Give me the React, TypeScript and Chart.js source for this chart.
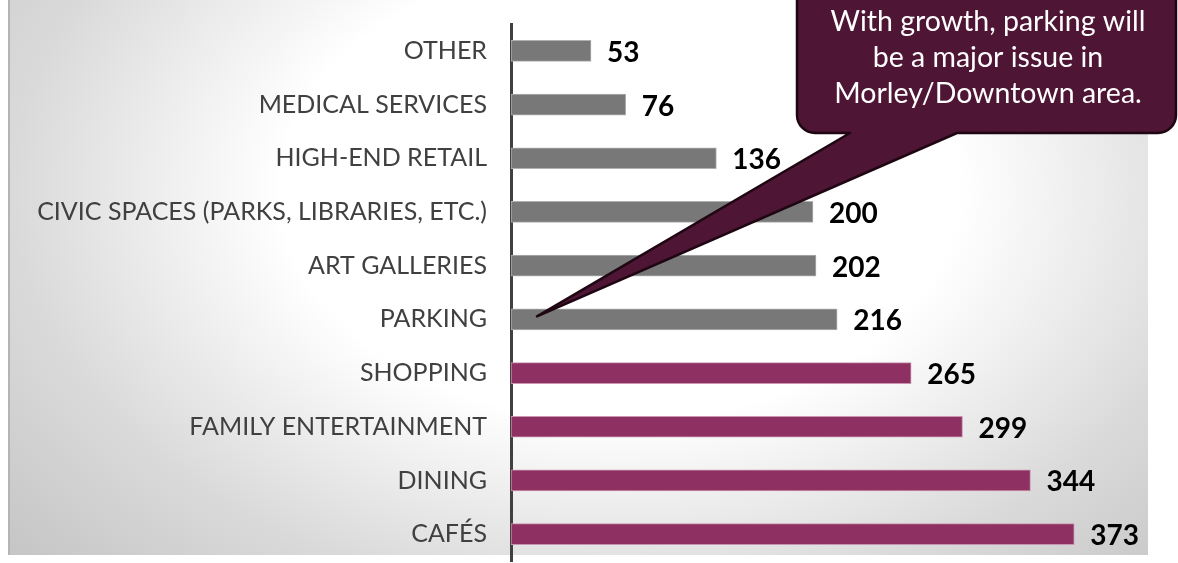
import React, { useEffect, useRef } from "react";
import { Chart, registerables } from "chart.js";

Chart.register(...registerables);

const categories = [
  "OTHER",
  "MEDICAL SERVICES",
  "HIGH-END RETAIL",
  "CIVIC SPACES (PARKS, LIBRARIES, ETC.)",
  "ART GALLERIES",
  "PARKING",
  "SHOPPING",
  "FAMILY ENTERTAINMENT",
  "DINING",
  "CAFÉS",
];
const values = [53, 76, 136, 200, 202, 216, 265, 299, 344, 373];
const highlighted = [false, false, false, false, false, false, true, true, true, true];
const calloutLines = ["With growth, parking will", "be a major issue in", "Morley/Downtown area."];
const calloutTarget = "PARKING";

const GRAY = "#787878";
const GRAY_BORDER = "#b0b0b0";
const MAG = "#8e3162";
const MAG_BORDER = "#c994b0";
const FONT = "Lato, 'DejaVu Sans', sans-serif";

const backgroundPlugin = {
  id: "bgPanel",
  beforeDraw(chart: any) {
    const ctx = chart.ctx as CanvasRenderingContext2D;
    const W = chart.width;
    const H = chart.height;
    ctx.save();
    ctx.fillStyle = "#ffffff";
    ctx.fillRect(0, 0, W, H);
    const x0 = 8, x1 = 1148, y0 = 0, y1 = 555;
    ctx.beginPath();
    ctx.rect(x0, y0, x1 - x0, y1 - y0);
    ctx.clip();
    const cx = 620, cy = 190, rx = 620, ry = 420;
    ctx.translate(cx, cy);
    ctx.scale(rx / ry, 1);
    const R = ry * 1.3;
    const g = ctx.createRadialGradient(0, 0, 0, 0, 0, R);
    g.addColorStop(0, "#ffffff");
    g.addColorStop(0.42, "#ffffff");
    g.addColorStop(0.75, "#dadada");
    g.addColorStop(1, "#c6c6c6");
    ctx.fillStyle = g;
    ctx.fillRect(-cx * 2, -cy * 3, W * 2, H * 3);
    ctx.restore();
    ctx.save();
    ctx.strokeStyle = "#b4b4b4";
    ctx.lineWidth = 2;
    ctx.beginPath();
    ctx.moveTo(9, 0);
    ctx.lineTo(9, 555);
    ctx.stroke();
    ctx.restore();
  },
};

const valueLabelPlugin = {
  id: "valueLabels",
  afterDatasetsDraw(chart: any) {
    const ctx = chart.ctx as CanvasRenderingContext2D;
    const meta = chart.getDatasetMeta(0);
    ctx.save();
    ctx.font = `bold 28px ${FONT}`;
    ctx.fillStyle = "#000000";
    ctx.textAlign = "left";
    ctx.textBaseline = "middle";
    meta.data.forEach((bar: any, i: number) => {
      ctx.fillText(String(values[i]), bar.x + 16, bar.y + 2);
    });
    ctx.restore();
  },
};

const calloutPlugin = {
  id: "callout",
  afterDraw(chart: any) {
    const ctx = chart.ctx as CanvasRenderingContext2D;
    const idx = categories.indexOf(calloutTarget);
    const meta = chart.getDatasetMeta(0);
    const bar = meta.data[idx];
    const tipX = chart.chartArea.left + 26;
    const tipY = bar.y - 3;
    const L = 797, Rt = 1176, T = -30, B = 133, r = 18;
    const t1 = 850, t2 = 957;
    ctx.save();
    ctx.beginPath();
    ctx.moveTo(L + r, T);
    ctx.lineTo(Rt - r, T);
    ctx.arcTo(Rt, T, Rt, T + r, r);
    ctx.lineTo(Rt, B - r);
    ctx.arcTo(Rt, B, Rt - r, B, r);
    ctx.lineTo(t2, B);
    ctx.lineTo(tipX, tipY);
    ctx.lineTo(t1, B);
    ctx.lineTo(L + r, B);
    ctx.arcTo(L, B, L, B - r, r);
    ctx.lineTo(L, T + r);
    ctx.arcTo(L, T, L + r, T, r);
    ctx.closePath();
    ctx.fillStyle = "#4f1535";
    ctx.fill();
    ctx.lineWidth = 2.5;
    ctx.lineJoin = "round";
    ctx.strokeStyle = "#1e0712";
    ctx.stroke();
    ctx.fillStyle = "#ffffff";
    ctx.font = `28.5px ${FONT}`;
    ctx.textAlign = "center";
    ctx.textBaseline = "alphabetic";
    const baselines = [31, 67, 103];
    calloutLines.forEach((line, i) => {
      ctx.fillText(line, 988, baselines[i]);
    });
    ctx.restore();
  },
};

export default function App() {
  const ref = useRef<HTMLCanvasElement | null>(null);
  useEffect(() => {
    if (!ref.current) return;
    const chart = new Chart(ref.current, {
      type: "bar",
      data: {
        labels: categories,
        datasets: [
          {
            data: values,
            backgroundColor: highlighted.map((h) => (h ? MAG : GRAY)),
            borderColor: highlighted.map((h) => (h ? MAG_BORDER : GRAY_BORDER)),
            borderWidth: 1,
            borderSkipped: false,
            barThickness: 21,
          },
        ],
      },
      options: {
        indexAxis: "y",
        responsive: false,
        animation: false,
        layout: { padding: { left: 0, right: 63, top: 24, bottom: 2 } },
        plugins: {
          legend: { display: false },
          tooltip: { enabled: false },
        },
        scales: {
          x: {
            display: false,
            min: 0,
            max: 400,
          },
          y: {
            afterFit: (scale: any) => {
              scale.width = 511;
              scale.paddingTop = 0;
              scale.paddingBottom = 0;
            },
            grid: { display: false, drawTicks: false, tickLength: 0 },
            border: { display: true, color: "#404040", width: 3 },
            ticks: {
              padding: 24,
              color: "#404040",
              font: { family: FONT, size: 25 },
            },
          },
        },
      },
      plugins: [backgroundPlugin, valueLabelPlugin, calloutPlugin],
    });
    return () => chart.destroy();
  }, []);
  return (
    <div style={{ position: "absolute", left: 0, top: 0, width: 1178, height: 563 }}>
      <canvas ref={ref} width={1178} height={563} />
    </div>
  );
}
